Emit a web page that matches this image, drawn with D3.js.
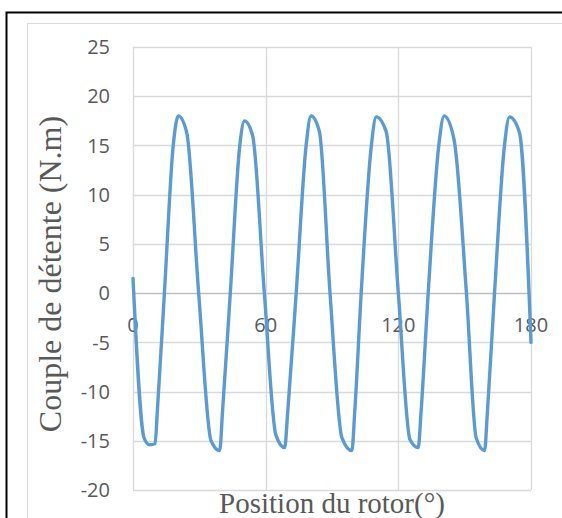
<!DOCTYPE html>
<html>
<head>
<meta charset="utf-8">
<script src="https://cdn.jsdelivr.net/npm/d3@7"></script>
<style>
    body { margin: 0; background: #fff; }
    svg { display: block; }
</style>
</head>
<body>
<svg id="chart" width="562" height="518"></svg>
<script>
// Position du rotor (degres) et couple de detente (N.m)
var positions = [0, 5, 7.5, 10, 11, 14.2, 18.2, 20.5, 24.3, 29.7,
    35.3, 39.2, 40.5, 44, 48.3, 50.4, 54.1, 59.4,
    64.6, 68.6, 70, 73.8, 78.3, 80.5, 84.3, 89.1,
    94.5, 99, 100.3, 103.2, 107.8, 110, 114.5, 120,
    125.3, 129, 130.3, 133.5, 138.3, 140.7, 145.2, 150.8,
    155.2, 159, 160.3, 163.5, 168, 170.3, 174.8, 180];
var couple = [1.5, -14.7, -15.4, -15.3, -12, 0, 15, 18, 16.3, 0,
    -15, -16, -12, 0, 15, 17.5, 16, 0,
    -14.4, -15.7, -12, 0, 15, 18, 16.4, 0,
    -14.7, -16, -12, 0, 15, 17.9, 16.4, 0,
    -14.9, -15.7, -12, 0, 15, 18, 15.6, 0,
    -14.7, -16, -12, 0, 15, 17.9, 16.3, -5];

var xTicks = [0, 60, 120, 180];
var yTicks = [-20, -15, -10, -5, 0, 5, 10, 15, 20, 25];

var xTitle = 'Position du rotor(°)';
var yTitle = 'Couple de détente (N.m)';

var labelFont = "'Open Sans', sans-serif";
var titleFont = "'Liberation Serif', 'Times New Roman', serif";

var svg = d3.select('#chart');

// cadres (noir exterieur, gris interieur), coupes a droite et en bas
svg.append('rect')
    .attr('x', 6.5).attr('y', 12.5)
    .attr('width', 600).attr('height', 600)
    .style('fill', 'none').style('stroke', '#000').style('stroke-width', 2);
svg.append('rect')
    .attr('x', 27.5).attr('y', 23.5)
    .attr('width', 600).attr('height', 600)
    .style('fill', 'none').style('stroke', '#d9d9d9').style('stroke-width', 1);

var x = d3.scaleLinear().domain([0, 180]).range([133, 531]);
var y = d3.scaleLinear().domain([-20, 25]).range([490, 47]);

// quadrillage
svg.append('g').selectAll('line.h').data(yTicks)
    .enter().append('line')
    .attr('x1', x(0)).attr('x2', x(180))
    .attr('y1', function (d) { return Math.round(y(d)) + 0.5; })
    .attr('y2', function (d) { return Math.round(y(d)) + 0.5; })
    .style('stroke', function (d) { return d === 0 ? '#bfbfbf' : '#d9d9d9'; })
    .style('stroke-width', 1.3);

svg.append('g').selectAll('line.v').data(xTicks)
    .enter().append('line')
    .attr('y1', y(-20)).attr('y2', y(25))
    .attr('x1', function (d) { return Math.round(x(d)) + 0.5; })
    .attr('x2', function (d) { return Math.round(x(d)) + 0.5; })
    .style('stroke', '#d9d9d9')
    .style('stroke-width', 1.3);

// graduations
svg.append('g').selectAll('text').data(yTicks)
    .enter().append('text')
    .attr('x', 110)
    .attr('y', function (d) { return y(d); })
    .attr('dy', '0.36em')
    .attr('text-anchor', 'end')
    .style('font-family', labelFont)
    .style('font-size', '20px')
    .style('fill', '#595959')
    .text(function (d) { return d; });

svg.append('g').selectAll('text').data(xTicks)
    .enter().append('text')
    .attr('x', function (d) { return x(d); })
    .attr('y', y(0) + 39)
    .attr('text-anchor', 'middle')
    .style('font-family', labelFont)
    .style('font-size', '20px')
    .style('fill', '#595959')
    .text(function (d) { return d; });

// courbe
var points = positions.map(function (p, i) { return [p, couple[i]]; });
var line = d3.line()
    .x(function (d) { return x(d[0]); })
    .y(function (d) { return y(d[1]); })
    .curve(d3.curveMonotoneX);

svg.append('path')
    .datum(points)
    .attr('d', line)
    .style('fill', 'none')
    .style('stroke', '#5b9bd5')
    .style('stroke-width', 3.4)
    .style('stroke-linejoin', 'round')
    .style('stroke-linecap', 'round');

// titres des axes
svg.append('text')
    .attr('transform', 'translate(61,274) rotate(-90)')
    .attr('text-anchor', 'middle')
    .style('font-family', titleFont)
    .style('font-size', '32px')
    .style('fill', '#595959')
    .text(yTitle);

svg.append('text')
    .attr('x', 332)
    .attr('y', 513)
    .attr('text-anchor', 'middle')
    .style('font-family', titleFont)
    .style('font-size', '29px')
    .style('fill', '#595959')
    .text(xTitle);
</script>
</body>
</html>
